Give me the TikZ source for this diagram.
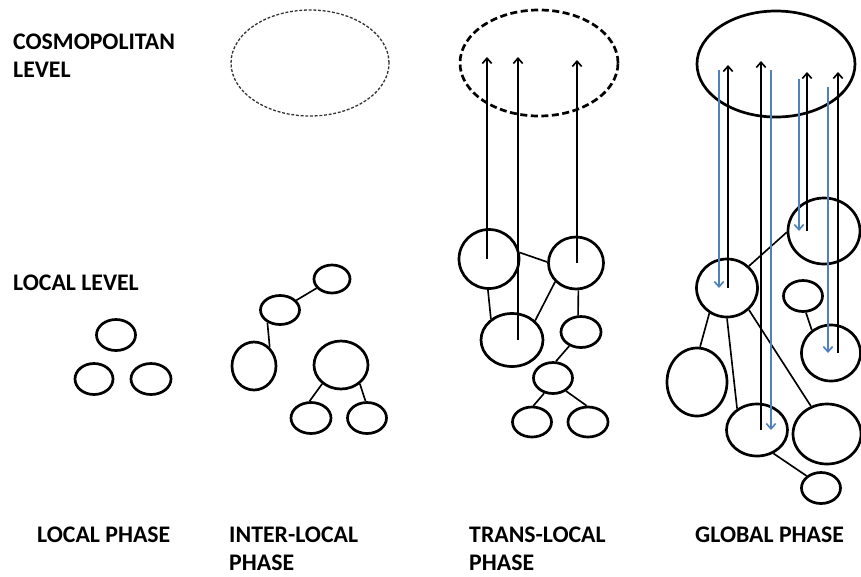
\documentclass[tikz,border=0pt]{standalone}
\usepackage{fontspec}
\setmainfont{Carlito}
\usetikzlibrary{positioning}
\usetikzlibrary{shapes.geometric}
\usetikzlibrary{arrows.meta}
\definecolor{flowblue}{RGB}{79,129,189}
\tikzset{
  blob/.style      = { ellipse, draw, line width=2.3pt, inner sep=0pt },
  wh/.style 2 args = { minimum width=#1*0.03cm, minimum height=#2*0.03cm },
  cosmo/.style     = { blob, minimum width=4.74cm, minimum height=3.18cm },
  link/.style      = { line width=1.4pt },
  up/.style        = { -{Straight Barb[length=4.5pt,width=8pt]}, line width=1.4pt },
  down/.style      = { up, draw=flowblue },
  tag/.style       = { anchor=north west, inner sep=0pt, align=left,
                       font=\bfseries\fontsize{20.3}{23.8}\selectfont },
}

\begin{document}
\begin{tikzpicture}[x=0.03cm,y=-0.03cm]
  \useasboundingbox (0,0) rectangle (861,576);

  \node (cosmolevel) [tag] at (13,34)  {COSMOPOLITAN\\LEVEL};
  \node (locallevel) [tag] at (13,275) {LOCAL LEVEL};
  \node (localph)    [tag] at (37,527)  {LOCAL PHASE};
  \node (interph)    [tag] at (229,527) {INTER-LOCAL\\PHASE};
  \node (transph)    [tag] at (469,527) {TRANS-LOCAL\\PHASE};
  \node (globalph)   [tag] at (695,527) {GLOBAL PHASE};

  \node (cinter)  [cosmo,line width=1.1pt,draw=black!80,dash pattern=on 2.5pt off 1.5pt] at (310,63) {};
  \node (ctrans)  [cosmo,dash pattern=on 6pt off 3pt] at (539,63) {};
  \node (cglobal) [cosmo] at (776,64) {};

  \node (lp1) [blob,wh={39}{31}] at (116,335) {};
  \node (lp2) [blob,wh={38}{31}] at (94,379)  {};
  \node (lp3) [blob,wh={40}{31}] at (151,379) {};

  \node (il1) [blob,wh={36}{28}] at (332,279) {};
  \node (il2) [blob,wh={39}{29}] at (280,310) {};
  \node (il3) [blob,wh={44}{48}] at (254,366) {};
  \node (il4) [blob,wh={54}{48}] at (341,365) {};
  \node (il5) [blob,wh={40}{31}] at (311,418) {};
  \node (il6) [blob,wh={39}{31}] at (367,418) {};

  \draw [link] (il1) -- (il2);
  \draw [link] (il2.225) -- (il3.50);
  \draw [link] (il4.225) -- (il5.95);
  \draw [link] (il4.315) -- (il6.95);

  \node (tlA) [blob,wh={60}{59}] at (489,259) {};
  \node (tlB) [blob,wh={55}{52}] at (576,263) {};
  \node (tlC) [blob,wh={62}{53}] at (512,340) {};
  \node (tlD) [blob,wh={40}{31}] at (581,332) {};
  \node (tlE) [blob,wh={39}{31}] at (553,378) {};
  \node (tlF) [blob,wh={39}{30}] at (532,422) {};
  \node (tlG) [blob,wh={40}{30}] at (588,422) {};

  \draw [link] (tlA.12)  -- (tlB.178);
  \draw [link] (tlA.268) -- (tlC.135);
  \draw [link] (tlB.222) -- (tlC.40);
  \draw [link] (tlB.275) -- (tlD.100);
  \draw [link] (tlD.230) -- (tlE.80);
  \draw [link] (tlE.240) -- (tlF.85);
  \draw [link] (tlE.315) -- (tlG.95);

  \coordinate (tl1) at (487,57);
  \coordinate (tl2) at (518,57);
  \coordinate (tl3) at (577,60);
  \draw [up] (tlA.center -| tl1) -- (tl1);
  \draw [up] (tlC.center -| tl2) -- (tl2);
  \draw [up] (tlB.center -| tl3) -- (tl3);

  \node (glH) [blob,wh={72}{66}] at (824,231) {};
  \node (glI) [blob,wh={61}{58}] at (727,288) {};
  \node (glJ) [blob,wh={39}{31}] at (803,296) {};
  \node (glK) [blob,wh={59}{56}] at (831,353) {};
  \node (glL) [blob,wh={60}{68}] at (697,382) {};
  \node (glM) [blob,wh={61}{52}] at (757,430) {};
  \node (glN) [blob,wh={68}{60}] at (827,434) {};
  \node (glO) [blob,wh={39}{31}] at (821,488) {};

  \draw [link] (glH.182) -- (glI.45);
  \draw [link] (glI.235) -- (glL.85);
  \draw [link] (glI.270) -- (glM.133);
  \draw [link] (glI.315) -- (glN.120);
  \draw [link] (glJ.280) -- (glK.130);
  \draw [link] (glM.305) -- (glO.140);

  \coordinate (gl1) at (728,65);
  \coordinate (gl2) at (761,61);
  \coordinate (gl3) at (807,72);
  \coordinate (gl4) at (838,72);
  \draw [up] (glI.center -| gl1) -- (gl1);
  \draw [up] (glM.center -| gl2) -- (gl2);
  \draw [up] (glH.center -| gl3) -- (gl3);
  \draw [up] (glK.center -| gl4) -- (gl4);

  \coordinate (bl1) at (719,70);
  \coordinate (bl2) at (771,70);
  \coordinate (bl3) at (799,79);
  \coordinate (bl4) at (828,87);
  \draw [down] (bl1) -- (glI.center -| bl1);
  \draw [down] (bl2) -- (glM.center -| bl2);
  \draw [down] (bl3) -- (glH.center -| bl3);
  \draw [down] (bl4) -- (glK.center -| bl4);

\end{tikzpicture}
\end{document}
